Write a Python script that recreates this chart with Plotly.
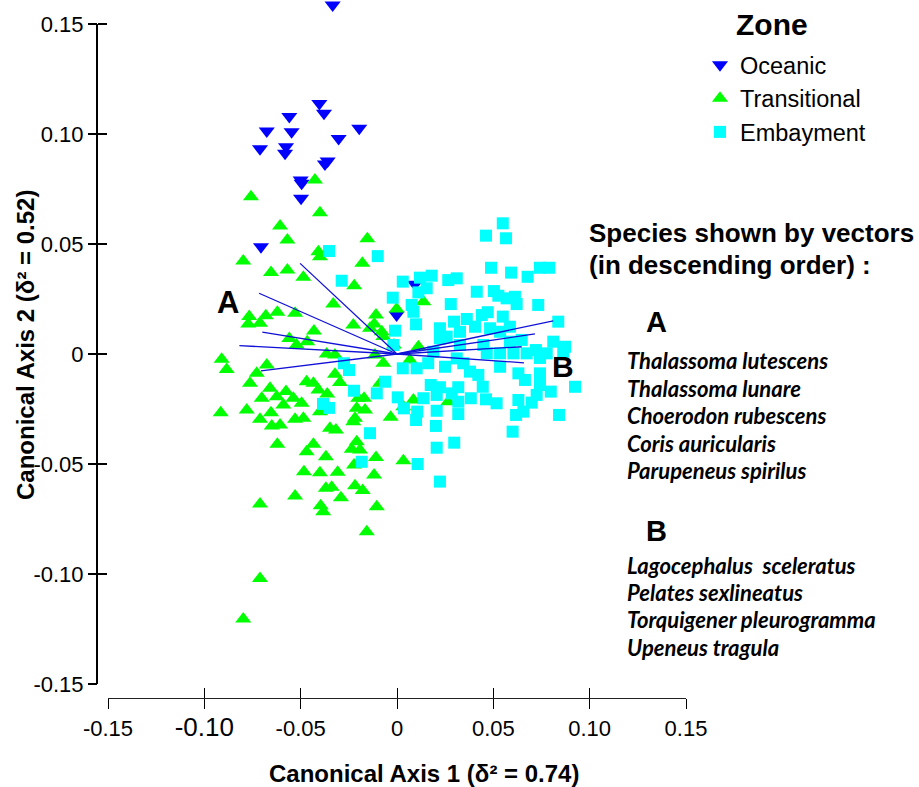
import plotly.graph_objects as go

W, H = 919, 787

# ---------------- data ----------------
oceanic_x = [-0.0334, -0.0403, -0.0379, -0.0559, -0.0676, -0.0547, -0.0196, -0.0303, -0.0711, -0.0576,
             -0.0581, -0.0360, -0.0374, -0.0500, -0.0495, -0.0498, -0.0706, -0.0002, 0.0093]
oceanic_y = [0.1586, 0.1139, 0.1094, 0.1079, 0.1014, 0.1010, 0.1026, 0.0980, 0.0933, 0.0942,
             0.0912, 0.0877, 0.0864, 0.0791, 0.0776, 0.0708, 0.0488, 0.0177, 0.0317]

transitional_x = [-0.0426, -0.0758, -0.0400, -0.0607, -0.0569, -0.0154, -0.0408, -0.0400, -0.0798, -0.0180,
                  -0.0654, -0.0569, -0.0486, -0.0222, -0.0331, -0.0767, -0.0772, -0.0681, -0.0711, -0.0621,
                  -0.0529, -0.0227, -0.0109, -0.0118, -0.0079, -0.0071, -0.0431, -0.0559, -0.0466, -0.0521,
                  -0.0910, -0.0884, -0.0676, -0.0728, -0.0763, -0.0365, -0.0322, -0.0114, -0.0071, -0.0322,
                  -0.0296, -0.0469, -0.0434, -0.0408, -0.0362, -0.0659, -0.0576, -0.0538, -0.0624, -0.0702,
                  -0.0590, -0.0495, -0.0654, -0.0780, -0.0915, -0.0711, -0.0650, -0.0607, -0.0529, -0.0486,
                  -0.0400, -0.0348, -0.0317, -0.0201, -0.0171, -0.0209, -0.0166, -0.0218, -0.0227, -0.0088,
                  -0.0033, 0.0033, -0.0621, -0.0434, -0.0469, -0.0209, -0.0235, -0.0192, -0.0369, -0.0109,
                  0.0033, -0.0483, -0.0400, -0.0308, -0.0223, -0.0119, -0.0369, -0.0339, -0.0218, -0.0178,
                  -0.0529, -0.0291, -0.0711, -0.0396, -0.0383, -0.0105, -0.0157, -0.0711, -0.0798, 0.0137,
                  0.0111, 0.0067, 0.0266, 0.0085, -0.0140, -0.0016, -0.0002]
transitional_y = [0.0791, 0.0715, 0.0642, 0.0582, 0.0518, 0.0524, 0.0465, 0.0442, 0.0423, 0.0412,
                  0.0370, 0.0382, 0.0349, 0.0310, 0.0227, 0.0170, 0.0136, 0.0174, 0.0140, 0.0190,
                  0.0185, 0.0132, 0.0177, 0.0136, 0.0101, 0.0079, 0.0105, 0.0071, 0.0056, 0.0041,
                  -0.0024, -0.0070, -0.0050, -0.0088, -0.0133, 0.0000, -0.0005, -0.0005, -0.0042, -0.0092,
                  -0.0130, -0.0126, -0.0133, -0.0164, -0.0182, -0.0156, -0.0171, -0.0201, -0.0194, -0.0201,
                  -0.0232, -0.0224, -0.0267, -0.0255, -0.0267, -0.0297, -0.0327, -0.0323, -0.0297, -0.0292,
                  -0.0262, -0.0338, -0.0345, -0.0201, -0.0201, -0.0247, -0.0255, -0.0292, -0.0308, -0.0133,
                  -0.0288, -0.0240, -0.0410, -0.0410, -0.0444, -0.0399, -0.0433, -0.0436, -0.0467, -0.0470,
                  -0.0485, -0.0535, -0.0540, -0.0538, -0.0505, -0.0550, -0.0610, -0.0606, -0.0599, -0.0621,
                  -0.0645, -0.0653, -0.0682, -0.0690, -0.0717, -0.0694, -0.0808, -0.1020, -0.1205, 0.0238,
                  0.0033, -0.0027, -0.0217, -0.0209, 0.0117, 0.0041, 0.0205]

embayment_x = [-0.0353, -0.0100, -0.0287, 0.0030, -0.0022, -0.0010, -0.0019, -0.0275, -0.0249, 0.0030,
               -0.0062, -0.0223, -0.0105, 0.0004, 0.0036, -0.0384, -0.0353, -0.0140, -0.0183, 0.0549,
               0.0462, 0.0566, 0.0488, 0.0592, 0.0742, 0.0790, 0.0678, 0.0119, 0.0180, 0.0266,
               0.0310, 0.0154, 0.0111, 0.0414, 0.0503, 0.0526, 0.0569, 0.0612, 0.0621, 0.0733,
               0.0279, 0.0076, 0.0085, 0.0471, 0.0440, 0.0549, 0.0362, 0.0296, 0.0223, 0.0099,
               0.0837, 0.0586, 0.0405, 0.0483, 0.0535, 0.0327, 0.0258, 0.0223, 0.0647, 0.0811,
               0.0872, 0.0586, 0.0448, 0.0721, 0.0777, 0.0327, 0.0188, 0.0310, 0.0535, 0.0466,
               0.0604, 0.0673, 0.0742, 0.0863, 0.0102, 0.0162, 0.0249, 0.0344, 0.0379, 0.0422,
               0.0535, 0.0630, 0.0664, 0.0742, 0.0742, 0.0798, 0.0924, 0.0175, 0.0223, 0.0318,
               0.0445, 0.0206, 0.0284, 0.0383, 0.0137, 0.0318, 0.0462, 0.0517, 0.0630, 0.0699,
               0.0725, 0.0105, 0.0206, 0.0318, 0.0618, 0.0656, 0.0841, 0.0099, 0.0202, 0.0600,
               0.0297, 0.0206, 0.0107, 0.0223]
embayment_y = [0.0468, 0.0445, 0.0333, 0.0329, 0.0256, 0.0106, 0.0041, -0.0042, -0.0073, -0.0065,
               -0.0126, -0.0167, -0.0179, -0.0197, -0.0247, -0.0227, -0.0245, -0.0360, -0.0490, 0.0594,
               0.0538, 0.0526, 0.0392, 0.0370, 0.0392, 0.0392, 0.0351, 0.0347, 0.0356, 0.0336,
               0.0344, 0.0299, 0.0280, 0.0283, 0.0286, 0.0265, 0.0253, 0.0260, 0.0227, 0.0223,
               0.0227, 0.0223, 0.0192, 0.0190, 0.0177, 0.0170, 0.0159, 0.0147, 0.0117, 0.0135,
               0.0147, 0.0124, 0.0124, 0.0117, 0.0101, 0.0101, 0.0079, 0.0071, 0.0064, 0.0056,
               0.0033, 0.0056, 0.0041, 0.0018, 0.0003, 0.0041, 0.0010, -0.0020, 0.0003, 0.0003,
               0.0003, 0.0003, -0.0018, 0.0010, -0.0065, -0.0042, -0.0058, -0.0042, -0.0080, -0.0095,
               -0.0058, -0.0088, -0.0118, -0.0088, -0.0141, -0.0171, -0.0149, -0.0141, -0.0151, -0.0151,
               -0.0149, -0.0186, -0.0179, -0.0201, -0.0201, -0.0217, -0.0206, -0.0224, -0.0209, -0.0221,
               -0.0186, -0.0262, -0.0258, -0.0273, -0.0277, -0.0262, -0.0277, -0.0300, -0.0327, -0.0353,
               -0.0403, -0.0426, -0.0500, -0.0580]

# species vectors (end points; all start at the origin)
vector_a_x = [-0.0503, -0.0716, -0.0699, -0.0818, -0.0706]
vector_a_y = [0.0412, 0.0276, 0.0099, 0.0038, -0.0077]
vector_b_x = [0.0811, 0.0716, 0.0647, 0.0659]
vector_b_y = [0.0151, 0.0091, 0.0033, -0.0040]

tick_vals = [-0.15, -0.10, -0.05, 0, 0.05, 0.10, 0.15]
y_tick_text = ["-0.15", "-0.10", "-0.05", "0", "0.05", "0.10", "0.15"]
x_tick_text = ["-0.15", '<span style="font-size:26px">-0.10</span>', "-0.05", "0", "0.05", "0.10", "0.15"]

species_a = ["Thalassoma lutescens", "Thalassoma lunare", "Choerodon rubescens",
             "Coris auricularis", "Parupeneus spirilus"]
species_b = ["Lagocephalus\u00a0 sceleratus", "Pelates sexlineatus",
             "Torquigener pleurogramma", "Upeneus tragula"]

x_title = "Canonical Axis 1 (\u03b4\u00b2 = 0.74)"
y_title = "Canonical Axis 2 (\u03b4\u00b2 = 0.52)"
legend_title = "Zone"

# ---------------- figure ----------------
FONT = "Liberation Sans, Arial, sans-serif"
SP = "Lato, 'Open Sans', sans-serif"

X_RANGE = [-0.15, 0.15]
Y_RANGE = [-0.15, 0.16]      # a little head-room above the drawn axis for the top-most point
AXIS_SPAN = [-0.15, 0.15]    # extent of the drawn axis lines


def px_x(p):
    return p / W


def px_y(p):
    return 1 - p / H


fig = go.Figure()
fig.add_trace(go.Scatter(x=oceanic_x, y=oceanic_y, mode="markers", name="Oceanic",
                         marker=dict(symbol="triangle-down", size=14, color="#0000FF", line=dict(width=0)),
                         cliponaxis=False))
fig.add_trace(go.Scatter(x=transitional_x, y=transitional_y, mode="markers", name="Transitional",
                         marker=dict(symbol="triangle-up", size=14, color="#00FF00", line=dict(width=0)),
                         cliponaxis=False))
fig.add_trace(go.Scatter(x=embayment_x, y=embayment_y, mode="markers", name="Embayment",
                         marker=dict(symbol="square", size=12, color="#00FFFF", line=dict(width=0)),
                         cliponaxis=False))

vx, vy = [], []
for ex, ey in zip(vector_a_x + vector_b_x, vector_a_y + vector_b_y):
    vx += [0, ex, None]
    vy += [0, ey, None]
fig.add_trace(go.Scatter(x=vx, y=vy, mode="lines", showlegend=False, hoverinfo="skip",
                         line=dict(color="#1010D8", width=1.3)))
# helper trace so the overlaid (inside-tick) axes exist
fig.add_trace(go.Scatter(x=[None], y=[None], xaxis="x2", yaxis="y2", showlegend=False,
                         hoverinfo="skip", mode="markers"))

# pixel geometry: x -0.15..0.15 -> 108..686 px ; y -0.15 at 684 px, 0.15 at 24 px
y_px_per_unit = (684 - 24) / (AXIS_SPAN[1] - AXIS_SPAN[0])
y_top_px = 684 - (Y_RANGE[1] - Y_RANGE[0]) * y_px_per_unit
xdom = [px_x(108), px_x(686)]
ydom = [px_y(684), px_y(y_top_px)]
xpos = px_y(698)
ypos = px_x(97)

common = dict(showgrid=False, zeroline=False, tickvals=tick_vals,
              anchor="free", tickcolor="black", automargin=False, fixedrange=True)

fig.update_layout(
    width=W, height=H,
    margin=dict(l=0, r=0, t=0, b=0, pad=0, autoexpand=False),
    paper_bgcolor="white", plot_bgcolor="rgba(0,0,0,0)",
    font=dict(family=FONT, color="black"),
    hovermode=False,
    xaxis=dict(domain=xdom, position=xpos, range=X_RANGE, showline=True, linecolor="#222", linewidth=1.3,
               ticks="outside", ticklen=10, tickwidth=1.3, ticktext=x_tick_text,
               tickfont=dict(family=FONT, size=22, color="black"), **common),
    yaxis=dict(domain=ydom, position=ypos, range=Y_RANGE, showline=False,
               ticks="outside", ticklen=9, tickwidth=1.6, ticktext=y_tick_text,
               tickfont=dict(family=FONT, size=22, color="black"), **common),
    xaxis2=dict(domain=xdom, position=xpos, range=X_RANGE, overlaying="x", showline=False, ticks="inside",
                ticklen=10, tickwidth=1.3, showticklabels=False, **common),
    yaxis2=dict(domain=ydom, position=ypos, range=Y_RANGE, overlaying="y", showline=False, ticks="inside",
                ticklen=9, tickwidth=1.6, showticklabels=False, **common),
    legend=dict(x=px_x(700), y=px_y(43), xanchor="left", yanchor="top",
                font=dict(family=FONT, size=23.5, color="black"),
                bgcolor="rgba(0,0,0,0)", itemclick=False, itemdoubleclick=False),
    shapes=[dict(type="line", xref="paper", yref="y", x0=ypos, x1=ypos,
                 y0=AXIS_SPAN[0], y1=AXIS_SPAN[1], line=dict(color="black", width=2), layer="above")],
)

ann = []
# legend heading
ann.append(dict(text=f"<b>{legend_title}</b>", x=px_x(772), y=px_y(25), xref="paper", yref="paper",
                showarrow=False, xanchor="center", yanchor="middle",
                font=dict(family=FONT, size=30, color="black")))
# axis titles
ann.append(dict(text=f"<b>{x_title}</b>", x=px_x(424), y=px_y(773), xref="paper", yref="paper",
                showarrow=False, xanchor="center", yanchor="middle",
                font=dict(family=FONT, size=24, color="black")))
ann.append(dict(text=f"<b>{y_title}</b>", x=px_x(25), y=px_y(345), xref="paper", yref="paper",
                showarrow=False, xanchor="center", yanchor="middle", textangle=-90,
                font=dict(family=FONT, size=24, color="black")))
# vector group labels on the plot
ann.append(dict(text="<b>A</b>", x=-0.0877, y=0.0236, xref="x", yref="y", showarrow=False,
                font=dict(family=FONT, size=31, color="black")))
ann.append(dict(text="<b>B</b>", x=0.0862, y=-0.0055, xref="x", yref="y", showarrow=False,
                font=dict(family=FONT, size=30, color="black")))
# right-hand text block
ann.append(dict(text="<b>Species shown by vectors</b>", x=px_x(587), y=px_y(233), xref="paper", yref="paper",
                showarrow=False, xanchor="left", yanchor="middle",
                font=dict(family=FONT, size=26, color="black")))
ann.append(dict(text="<b>(in descending order) :</b>", x=px_x(587), y=px_y(265), xref="paper", yref="paper",
                showarrow=False, xanchor="left", yanchor="middle",
                font=dict(family=FONT, size=26, color="black")))
ann.append(dict(text="<b>A</b>", x=px_x(656), y=px_y(322), xref="paper", yref="paper",
                showarrow=False, xanchor="center", yanchor="middle",
                font=dict(family=FONT, size=29, color="black")))
ann.append(dict(text="<b>B</b>", x=px_x(656), y=px_y(531), xref="paper", yref="paper",
                showarrow=False, xanchor="center", yanchor="middle",
                font=dict(family=FONT, size=29, color="black")))
for i, s in enumerate(species_a):
    ann.append(dict(text=f"<b><i>{s}</i></b>", x=px_x(625), y=px_y(360.5 + 27.6 * i), xref="paper", yref="paper",
                    showarrow=False, xanchor="left", yanchor="middle",
                    font=dict(family=SP, size=22, color="black")))
for i, s in enumerate(species_b):
    ann.append(dict(text=f"<b><i>{s}</i></b>", x=px_x(625), y=px_y(565 + 27.4 * i), xref="paper", yref="paper",
                    showarrow=False, xanchor="left", yanchor="middle",
                    font=dict(family=SP, size=22, color="black")))
fig.update_layout(annotations=ann)

fig.write_html("out.html")
